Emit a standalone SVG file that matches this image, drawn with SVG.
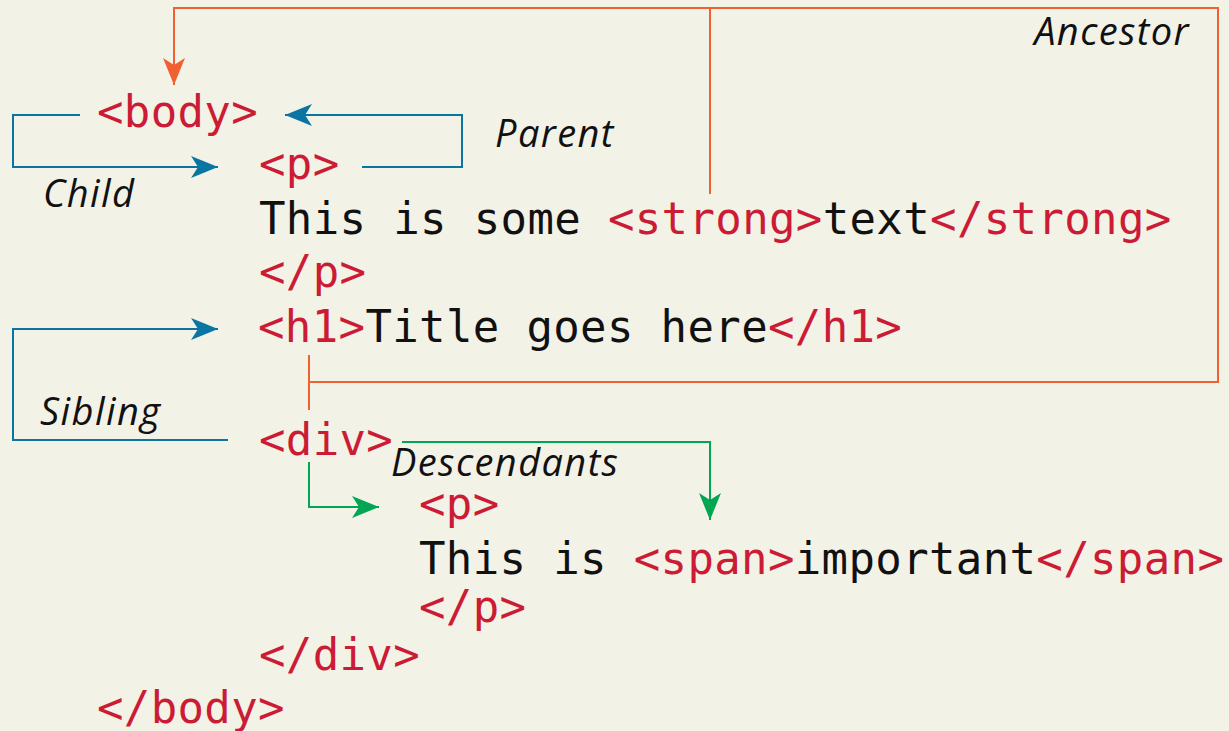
<svg xmlns="http://www.w3.org/2000/svg" width="1229" height="731" viewBox="0 0 1229 731">
<style>
.code{font-family:"DejaVu Sans Mono","Liberation Mono",monospace;font-size:44px;letter-spacing:0.35px;fill:#111;white-space:pre}
.tag{fill:#cc1b34}
.lbl{font-family:"Open Sans","DejaVu Sans",sans-serif;font-style:italic;font-size:38px;letter-spacing:1.4px;fill:#111}
.c{fill:none;stroke-width:2}
.or{stroke:#f06030}
.bl{stroke:#0a74a3}
.gr{stroke:#00a651}
</style>
<defs>
<marker id="aO" markerUnits="userSpaceOnUse" markerWidth="30" markerHeight="24" viewBox="0 -12 30 24" refX="27" refY="0" orient="auto"><path d="M0,-11 L27,0 L0,11 L7,0 Z" fill="#f06030"/></marker>
<marker id="aB" markerUnits="userSpaceOnUse" markerWidth="30" markerHeight="24" viewBox="0 -12 30 24" refX="27" refY="0" orient="auto"><path d="M0,-11 L27,0 L0,11 L7,0 Z" fill="#0a74a3"/></marker>
<marker id="aG" markerUnits="userSpaceOnUse" markerWidth="30" markerHeight="24" viewBox="0 -12 30 24" refX="27" refY="0" orient="auto"><path d="M0,-11 L27,0 L0,11 L7,0 Z" fill="#00a651"/></marker>
</defs>
<rect width="1229" height="731" fill="#f3f2e7"/>
<g id="connectors">
<path class="c or" d="M710,194 V8 H174 V85" marker-end="url(#aO)"/>
<path class="c or" d="M710,8 H1218 V382 H309"/>
<path class="c or" d="M309,355 V410"/>
<path class="c bl" d="M80,115 H13 V167 H218" marker-end="url(#aB)"/>
<path class="c bl" d="M362,167 H462 V115 H285" marker-end="url(#aB)"/>
<path class="c bl" d="M228,440 H13 V329 H218" marker-end="url(#aB)"/>
<path class="c gr" d="M309,462 V507 H379" marker-end="url(#aG)"/>
<path class="c gr" d="M402,442 H710 V520" marker-end="url(#aG)"/>
</g>
<g id="body-open"><text class="code tag" x="97" y="127">&lt;body&gt;</text></g>
<g id="p-block">
<text class="code tag" x="259" y="179">&lt;p&gt;</text>
<text class="code" x="259" y="234" xml:space="preserve">This is some <tspan class="tag">&lt;strong&gt;</tspan>text<tspan class="tag">&lt;/strong&gt;</tspan></text>
<text class="code tag" x="259" y="287">&lt;/p&gt;</text>
</g>
<g id="h1"><text class="code" x="258" y="342" xml:space="preserve"><tspan class="tag">&lt;h1&gt;</tspan>Title goes here<tspan class="tag">&lt;/h1&gt;</tspan></text></g>
<g id="div-block">
<text class="code tag" x="259" y="455">&lt;div&gt;</text>
<text class="code tag" x="419" y="519">&lt;p&gt;</text>
<text class="code" x="419" y="574" xml:space="preserve">This is <tspan class="tag">&lt;span&gt;</tspan>important<tspan class="tag">&lt;/span&gt;</tspan></text>
<text class="code tag" x="419" y="622">&lt;/p&gt;</text>
<text class="code tag" x="259" y="670">&lt;/div&gt;</text>
</g>
<g id="body-close"><text class="code tag" x="97" y="723">&lt;/body&gt;</text></g>
<g id="labels">
<text class="lbl" x="1190" y="45" text-anchor="end">Ancestor</text>
<text class="lbl" x="495" y="147">Parent</text>
<text class="lbl" x="43" y="207">Child</text>
<text class="lbl" x="40" y="425">Sibling</text>
<text class="lbl" x="391" y="476">Descendants</text>
</g>
</svg>
